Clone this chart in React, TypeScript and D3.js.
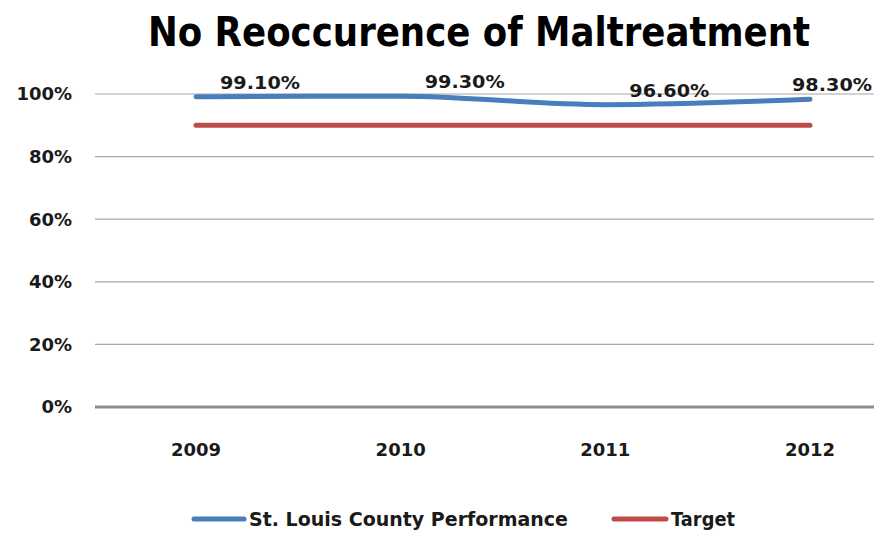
import { curveMonotoneX, line, scaleLinear, scalePoint } from "d3";

const years = ["2009", "2010", "2011", "2012"];
const performance = [99.1, 99.3, 96.6, 98.3];
const performanceLabels = ["99.10%", "99.30%", "96.60%", "98.30%"];
const target = [90, 90, 90, 90];
const yTicks = [0, 20, 40, 60, 80, 100];
const seriesNames = ["St. Louis County Performance", "Target"];

const WIDTH = 874;
const HEIGHT = 533;
const FONT = "'DejaVu Sans', sans-serif";
const BLUE = "#4a7ebb";
const RED = "#be4b48";

export default function App() {
  const x = scalePoint<string>().domain(years).range([196, 810]);
  const y = scaleLinear().domain([0, 100]).range([407, 94]);
  const gridLeft = 95;

  const path = line<number>()
    .x((_d, i) => x(years[i]) ?? 0)
    .y((d) => y(d))
    .curve(curveMonotoneX);

  return (
    <svg
      width={WIDTH}
      height={HEIGHT}
      style={{ position: "fixed", left: 0, top: 0, background: "#fff" }}
      fontFamily={FONT}
    >
      <text
        x={479}
        y={46}
        textAnchor="middle"
        fontSize={41}
        fontWeight="bold"
        fontFamily="'DejaVu Sans Condensed', 'DejaVu Sans', sans-serif"
        textLength={662}
        lengthAdjust="spacingAndGlyphs"
      >
        No Reoccurence of Maltreatment
      </text>

      {yTicks.map((t) => (
        <g key={t}>
          <line
            x1={gridLeft}
            x2={WIDTH}
            y1={y(t)}
            y2={y(t)}
            stroke={t === 0 ? "#8c8c8c" : "#a6a6a6"}
            strokeWidth={t === 0 ? 3 : 1.2}
          />
          <text x={72} y={y(t)} dy="0.36em" textAnchor="end" fontSize={18} fontWeight="bold" fill="#1a1a1a">
            {t}%
          </text>
        </g>
      ))}

      {years.map((yr) => (
        <text key={yr} x={x(yr)} y={456} textAnchor="middle" fontSize={18} fontWeight="bold" fill="#1a1a1a">
          {yr}
        </text>
      ))}

      <path d={path(target) ?? ""} fill="none" stroke={RED} strokeWidth={5} strokeLinecap="round" />
      <path d={path(performance) ?? ""} fill="none" stroke={BLUE} strokeWidth={5} strokeLinecap="round" />

      {performance.map((v, i) => {
        const cx = Math.min((x(years[i]) ?? 0) + 64, WIDTH - 42);
        return (
          <text key={i} x={cx} y={y(v) - 8} textAnchor="middle" fontSize={18} fontWeight="bold" fill="#1a1a1a" textLength={80} lengthAdjust="spacingAndGlyphs">
            {performanceLabels[i]}
          </text>
        );
      })}

      <g fontSize={19} fontWeight="bold" fill="#1a1a1a">
        <line x1={194} x2={244} y1={519} y2={519} stroke={BLUE} strokeWidth={5} strokeLinecap="round" />
        <text x={249} y={519} dy="0.36em" textLength={319} lengthAdjust="spacingAndGlyphs">
          {seriesNames[0]}
        </text>
        <line x1={614} x2={666} y1={519} y2={519} stroke={RED} strokeWidth={5} strokeLinecap="round" />
        <text x={671} y={519} dy="0.36em" textLength={64} lengthAdjust="spacingAndGlyphs">
          {seriesNames[1]}
        </text>
      </g>
    </svg>
  );
}
